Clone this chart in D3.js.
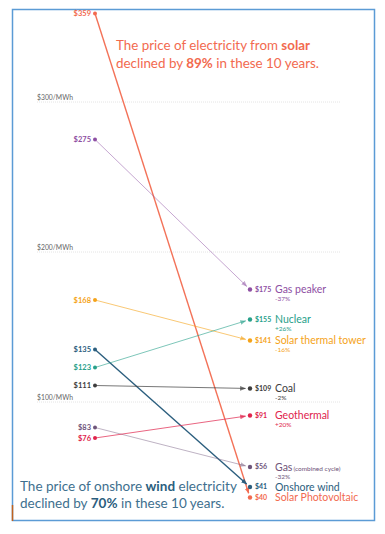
<!DOCTYPE html>
<html><head><meta charset="utf-8">
<script src="https://cdn.jsdelivr.net/npm/d3@7"></script>
<style>body{margin:0;background:#fff;} svg{display:block;font-family:Lato,"Open Sans",sans-serif;}</style>
</head><body><svg id="c" width="385" height="534"></svg>
<script>
const names = ["Solar Photovoltaic","Gas peaker","Solar thermal tower","Onshore wind","Nuclear","Coal","Gas","Geothermal"];
const start2009 = [359,275,168,135,123,111,83,76];
const end2019 = [40,175,141,41,155,109,56,91];
const changes = ["","-37%","-16%","","+26%","-2%","-32%","+20%"];
const colors = ["#f26a4f","#8e4fa3","#f5a319","#2b5e7e","#27a08a","#3d3d3d","#6f557a","#e0244c"];
const lineOpacity = [0.95,0.5,0.6,1,0.6,0.7,0.45,0.7];
const labelShift = [5.5,0,0,-3.5,0,0,-1,0];
const gridTicks = [100,200,300];

const svg = d3.select("#c");
const y = d3.scaleLinear().domain([0,300]).range([552,102]);
const x = d3.scalePoint().domain(["2009","2019"]).range([95,250]);

// frame
svg.append("rect").attr("x",12.5).attr("y",9.5).attr("width",362).attr("height",511)
  .attr("fill","none").attr("stroke","#5b9bd5").attr("stroke-width",1.5);
svg.append("line").attr("x1",12.5).attr("x2",12.5).attr("y1",505).attr("y2",521)
  .attr("stroke","#c0621f").attr("stroke-width",1.5);

// grid
const g = svg.append("g");
gridTicks.forEach(t=>{
  g.append("line").attr("x1",37).attr("x2",340).attr("y1",y(t)).attr("y2",y(t))
    .attr("stroke","#ddd").attr("stroke-width",0.8).attr("stroke-dasharray","1,1");
  g.append("text").attr("x",37).attr("y",y(t)-2.5).attr("font-size",6.8).attr("fill","#666")
    .text("$"+t+"/MWh");
});

const defs = svg.append("defs");
colors.forEach((c,i)=>{
  defs.append("marker").attr("id","m"+i).attr("viewBox","0 0 10 10").attr("refX",9).attr("refY",5)
    .attr("markerWidth",6).attr("markerHeight",6).attr("orient","auto").attr("markerUnits","userSpaceOnUse")
    .append("path").attr("d","M0,1L10,5L0,9Z").attr("fill",c).attr("fill-opacity",lineOpacity[i]);
});

// lines
names.forEach((n,i)=>{
  const x1=x("2009"), y1=y(start2009[i]), x2=x("2019"), y2=y(end2019[i])+labelShift[i];
  const dx=x2-x1, dy=y2-y1, L=Math.hypot(dx,dy);
  const ex=x2-dx/L*4.5, ey=y2-dy/L*4.5;
  svg.append("line").attr("x1",x1).attr("y1",y1).attr("x2",ex).attr("y2",ey)
    .attr("stroke",colors[i]).attr("stroke-opacity",lineOpacity[i])
    .attr("stroke-width", i===3||i===0?1.4:1).attr("marker-end","url(#m"+i+")");
});

// dots and labels
names.forEach((n,i)=>{
  svg.append("circle").attr("cx",x("2009")).attr("cy",y(start2009[i])).attr("r",2).attr("fill",colors[i]);
  svg.append("text").attr("x",x("2009")-4).attr("y",y(start2009[i])).attr("dy","0.35em")
    .attr("text-anchor","end").attr("font-size",7.5).attr("font-weight","bold").attr("fill",colors[i])
    .text("$"+start2009[i]);
  const yl = y(end2019[i])+labelShift[i];
  svg.append("circle").attr("cx",x("2019")).attr("cy",yl).attr("r",2.2).attr("fill",colors[i]);
  svg.append("text").attr("x",x("2019")+5).attr("y",yl).attr("dy","0.35em")
    .attr("font-size",7).attr("font-weight","bold").attr("fill",colors[i]).text("$"+end2019[i]);
  const t = svg.append("text").attr("x",x("2019")+25).attr("y",yl).attr("dy","0.35em")
    .attr("font-size",10.5).attr("fill",colors[i]).text(n);
  if(n==="Gas") t.append("tspan").attr("font-size",6.5).attr("dx",1).text("(combined cycle)");
  if(changes[i]) svg.append("text").attr("x",x("2019")+25).attr("y",yl+9.5).attr("dy","0.35em")
    .attr("font-size",6.5).attr("fill",colors[i]).text(changes[i]);
});

// annotations
const t1 = svg.append("text").attr("font-size",12.5).attr("fill","#f26a4f")
  .attr("x",116).attr("y",50).attr("textLength",194).attr("lengthAdjust","spacingAndGlyphs");
t1.append("tspan").text("The price of electricity from ");
t1.append("tspan").attr("font-weight","bold").text("solar");
const t2 = svg.append("text").attr("font-size",12.5).attr("fill","#f26a4f")
  .attr("x",116).attr("y",67.5).attr("textLength",203).attr("lengthAdjust","spacingAndGlyphs");
t2.append("tspan").text("declined by ");
t2.append("tspan").attr("font-weight","bold").text("89%");
t2.append("tspan").text(" in these 10 years.");

const a2 = svg.append("text").attr("font-size",13.5).attr("fill","#3e6f8e");
a2.append("tspan").attr("x",20).attr("y",491).text("The price of onshore ");
a2.append("tspan").attr("font-weight","bold").attr("fill","#2b5e7e").text("wind");
a2.append("tspan").text(" electricity");
a2.append("tspan").attr("x",20).attr("y",508).text("declined by ");
a2.append("tspan").attr("font-weight","bold").attr("fill","#2b5e7e").text("70%");
a2.append("tspan").text(" in these 10 years.");
</script></body></html>
